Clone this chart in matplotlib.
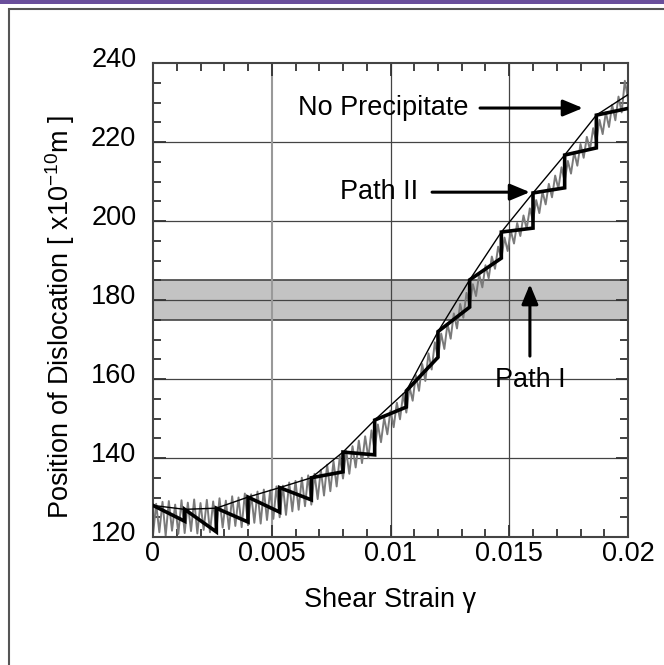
import numpy as np
import matplotlib
matplotlib.use("Agg")
import matplotlib.pyplot as plt
import matplotlib.transforms as mtrans
from matplotlib.patches import Rectangle
from matplotlib.ticker import MultipleLocator

plt.rcParams['font.family'] = ['Liberation Sans', 'DejaVu Sans']

# strain at the jumps of the pinned dislocation (Path I / Path II)
step_strain = [0, 0.001333, 0.002667, 0.004, 0.005333, 0.006667, 0.008, 0.009333,
               0.010667, 0.012, 0.013333, 0.014667, 0.016, 0.017333, 0.018667, 0.02]
# position just after each jump and just before the next one
path1_top = [128.0, 127.0, 127.3, 130.1, 132.5, 135.0, 141.5, 149.6,
             157.0, 172.0, 185.1, 197.2, 207.1, 216.7, 226.8]
path1_bottom = [124.0, 121.3, 123.8, 126.3, 129.4, 136.5, 140.8, 152.9,
                165.5, 178.2, 190.6, 198.2, 208.4, 218.5, 228.5]
path2_pos = [128.0, 127.0, 127.3, 130.1, 132.5, 135.0, 141.5, 149.6,
             157.0, 172.0, 185.1, 197.2, 207.1, 216.7, 226.8, 232.0]

# no precipitate: fast sawtooth, alternating low / high points
noprec_pos = [
    120.5, 128.4, 121.2, 128.9, 120.3, 129.1, 121.6, 128.2, 120.8, 129.3,
    121.0, 128.7, 121.5, 129.5, 120.9, 128.6, 121.8, 129.4, 121.2, 129.0,
    121.6, 129.8, 122.4, 129.2, 122.0, 130.3, 122.8, 130.0, 122.5, 131.0,
    123.0, 130.8, 123.6, 131.5, 123.4, 132.0, 124.3, 131.8, 124.6, 132.8,
    125.0, 133.0, 125.6, 133.8, 126.5, 134.2, 126.9, 135.0, 127.8, 135.6,
    128.2, 136.0, 129.6, 137.0, 130.5, 138.3, 131.6, 139.2, 132.8, 140.5,
    134.8, 141.8, 136.0, 143.0, 137.6, 144.4, 138.7, 145.5, 140.0, 147.0,
    142.0, 148.5, 144.0, 150.2, 146.0, 152.0, 147.8, 154.0, 149.8, 156.2,
    151.5, 158.0, 154.5, 161.0, 157.0, 163.8, 159.5, 166.5, 162.4, 169.3,
    165.2, 171.5, 167.6, 174.0, 170.2, 176.6, 172.8, 179.0, 175.5, 181.8,
    178.5, 184.0, 181.0, 186.5, 183.2, 188.8, 185.5, 191.0, 187.9, 193.5,
    190.5, 195.8, 192.4, 197.5, 194.3, 199.5, 196.2, 201.4, 198.0, 203.2,
    200.0, 205.3, 202.0, 207.4, 204.2, 209.4, 206.0, 211.5, 208.2, 213.6,
    210.0, 215.2, 212.0, 217.4, 214.0, 219.5, 216.0, 221.3, 218.0, 223.5,
    220.0, 225.6, 222.0, 227.5, 223.8, 229.4, 225.5, 231.5, 227.5, 235.5,
    231.0,
]
noprec_strain = np.linspace(0, 0.02, len(noprec_pos))

# staircase for Path I: slide, then jump
p1x, p1y = [step_strain[0]], [path1_top[0]]
for k in range(1, len(step_strain)):
    p1x.append(step_strain[k])
    p1y.append(path1_bottom[k - 1])
    if k < len(path1_top):
        p1x.append(step_strain[k])
        p1y.append(path1_top[k])

FS = 19.5

fig = plt.figure(figsize=(6.64, 6.65), dpi=100)
fig.patches.append(Rectangle((0, 1 - 4 / 665), 1, 4 / 665, transform=fig.transFigure,
                             facecolor='#6a4f9b', edgecolor='none'))
fig.patches.append(Rectangle((8.5 / 664, -0.2), 1.2, 1.2 - 8.5 / 665,
                             transform=fig.transFigure, fill=False,
                             edgecolor='#555555', lw=1.5))

ax = fig.add_axes([153 / 664, 1 - 537 / 665, 475 / 664, 474 / 665])

ax.axhspan(175, 185, facecolor='#c3c3c3', edgecolor='#444444', lw=1.2, zorder=0)
for yv in [140, 160, 180, 200, 220]:
    ax.axhline(yv, color='#444444', lw=0.9, zorder=1)
ax.axvline(0.005, color='#999999', lw=1.5, zorder=1)
for xv in [0.01, 0.015]:
    ax.axvline(xv, color='#444444', lw=0.9, zorder=1)

ax.plot(noprec_strain, noprec_pos, color='#7a7a7a', lw=1.4, zorder=2)
ax.plot(step_strain, path2_pos, color='black', lw=1.0, zorder=3)
ax.plot(p1x, p1y, color='black', lw=2.6, zorder=4, solid_joinstyle='miter')

ax.set_xlim(0, 0.02)
ax.set_ylim(120, 240)
ax.set_xticks([0, 0.005, 0.01, 0.015, 0.02])
ax.set_xticklabels(['0', '0.005', '0.01', '0.015', '0.02'])
ax.xaxis.set_minor_locator(MultipleLocator(0.001))
ax.yaxis.set_major_locator(MultipleLocator(20))
ax.yaxis.set_minor_locator(MultipleLocator(5))
ax.tick_params(which='both', direction='in', top=True, right=True, color='#333333',
               labelsize=FS)
ax.tick_params(which='major', length=9, width=1.3)
ax.tick_params(which='minor', length=6, width=1.3)
ax.tick_params(axis='x', pad=3)
ax.tick_params(axis='y', pad=12)
for s in ax.spines.values():
    s.set_color('#444444')
    s.set_linewidth(1.5)

# y tick labels sit a little above their ticks in the original
shift = mtrans.ScaledTranslation(0, 6 / 100, fig.dpi_scale_trans)
for lab in ax.get_yticklabels():
    lab.set_transform(lab.get_transform() + shift)

ax.set_xlabel('Shear Strain γ', fontsize=FS, labelpad=14)
ax.set_ylabel(r'Position of Dislocation [ x10$^{\mathregular{-10}}$m ]', fontsize=FS)
ax.yaxis.set_label_coords(-0.16, 0.465)

arrow = dict(arrowstyle='-|>,head_length=1.2,head_width=0.5', color='black', lw=2.2,
             shrinkA=0, shrinkB=0)
ax.text(0.00968, 228.6, 'No Precipitate', fontsize=FS, ha='center', va='center')
ax.annotate('', xy=(0.0181, 228.6), xytext=(0.01377, 228.6), arrowprops=arrow)
ax.text(0.00952, 207.3, 'Path II', fontsize=FS, ha='center', va='center')
ax.annotate('', xy=(0.01587, 207.3), xytext=(0.01175, 207.3), arrowprops=arrow)
ax.text(0.01587, 159.7, 'Path I', fontsize=FS, ha='center', va='center')
ax.annotate('', xy=(0.01587, 184.0), xytext=(0.01587, 165.8), arrowprops=arrow)

fig.savefig('out.png', dpi=100)
